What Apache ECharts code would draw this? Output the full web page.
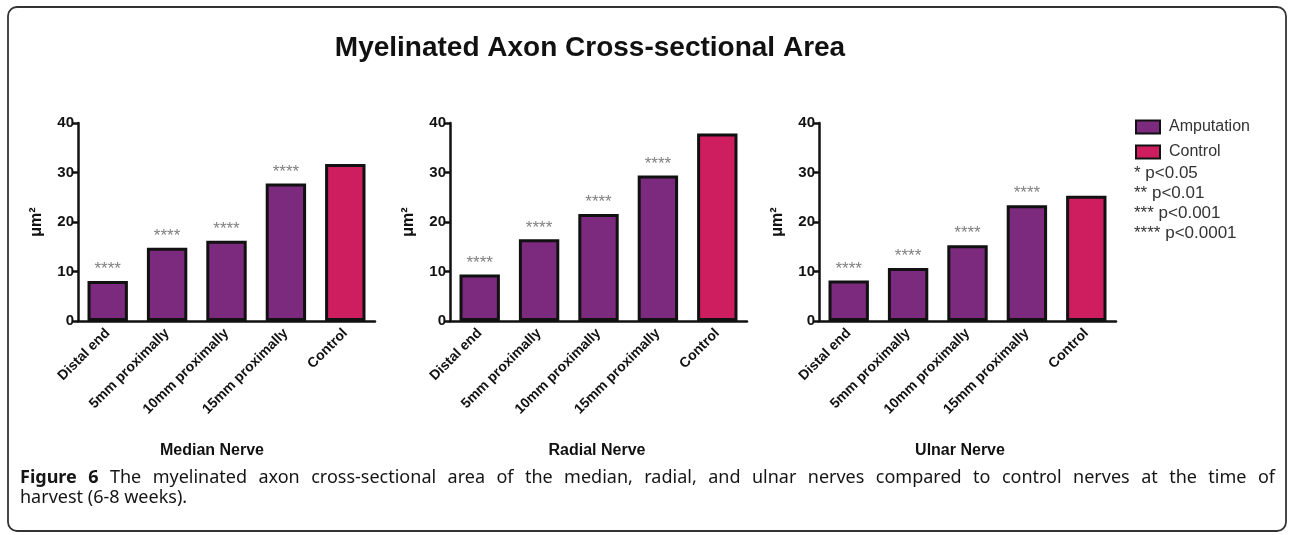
<!DOCTYPE html>
<html>
<head>
<meta charset="utf-8">
<script src="https://cdn.jsdelivr.net/npm/echarts@6/dist/echarts.min.js"></script>
<style>
html,body{margin:0;padding:0;background:#fff;}
#chart{width:1290px;height:535px;}
</style>
</head>
<body>
<div id="chart"></div>
<script>
// ---- data ----
const categories = ['Distal end', '5mm proximally', '10mm proximally', '15mm proximally', 'Control'];
const panelNames = ['Median Nerve', 'Radial Nerve', 'Ulnar Nerve'];
const medianValues = [8.1, 14.8, 16.2, 27.8, 31.7];
const radialValues = [9.4, 16.5, 21.6, 29.4, 37.9];
const ulnarValues = [8.2, 10.7, 15.3, 23.4, 25.3];
const significance = ['****', '****', '****', '****', ''];
const pLegend = ['* p<0.05', '** p<0.01', '*** p<0.001', '**** p<0.0001'];
const yTicks = { min: 0, max: 40, interval: 10 };
const seriesNames = ['Amputation', 'Control'];
const captionLine1 = 'The myelinated axon cross-sectional area of the median, radial, and ulnar nerves compared to control nerves at the time of';
const captionLine2 = 'harvest (6-8 weeks).';
const captionLabel = 'Figure 6';

const PURPLE = '#7c2a7d';
const PINK = '#ce1e60';
const FONT = "Arial, 'Liberation Sans', Helvetica, sans-serif";
const CAP_FONT = "'Noto Sans', 'Open Sans', sans-serif";

const panels = [medianValues, radialValues, ulnarValues];
const grids = [
  { left: 78, top: 123, width: 297, height: 198 },
  { left: 450, top: 123, width: 297, height: 198 },
  { left: 819, top: 123, width: 297, height: 198 }
];

const xAxes = [], yAxes = [], series = [];
panels.forEach((vals, i) => {
  xAxes.push({
    type: 'category', gridIndex: i, data: categories,
    axisLine: { lineStyle: { color: '#111', width: 2.5 } },
    axisTick: { alignWithLabel: true, length: 6, lineStyle: { color: '#111', width: 2.5 } },
    axisLabel: { rotate: 45, interval: 0, color: '#111', fontWeight: 'bold', fontSize: 14, fontFamily: FONT, margin: 10 }
  });
  yAxes.push({
    type: 'value', gridIndex: i, min: yTicks.min, max: yTicks.max, interval: yTicks.interval,
    name: 'μm²', nameLocation: 'middle', nameRotate: 90, nameGap: 33,
    nameTextStyle: { color: '#111', fontWeight: 'bold', fontSize: 16, fontFamily: FONT },
    axisLine: { show: true, lineStyle: { color: '#111', width: 2.5 } },
    axisTick: { show: true, length: 6, lineStyle: { color: '#111', width: 2.5 } },
    axisLabel: { color: '#111', fontWeight: 'bold', fontSize: 15, fontFamily: FONT, margin: 4 },
    splitLine: { show: false }
  });
  const amp = vals.map((v, k) => categories[k] === 'Control' ? '-' : v);
  const ctl = vals.map((v, k) => categories[k] === 'Control' ? v : '-');
  const common = {
    type: 'bar', xAxisIndex: i, yAxisIndex: i, stack: 'p' + i, barWidth: '68%',
    animation: false,
    label: {
      show: true, position: 'top', distance: 3, color: '#808080', fontSize: 17, fontFamily: FONT,
      formatter: p => significance[p.dataIndex]
    }
  };
  series.push(Object.assign({}, common, {
    name: seriesNames[0], data: amp,
    itemStyle: { color: PURPLE, borderColor: '#111', borderWidth: 3 }
  }));
  series.push(Object.assign({}, common, {
    name: seriesNames[1], data: ctl,
    itemStyle: { color: PINK, borderColor: '#111', borderWidth: 3 }
  }));
});

const graphics = [
  { type: 'rect', shape: { x: 8, y: 7, width: 1278, height: 524, r: 9 }, style: { fill: 'none', stroke: '#333', lineWidth: 1.8 }, silent: true },
  { type: 'text', x: 590, y: 48, style: { text: 'Myelinated Axon Cross-sectional Area', fill: '#111', font: 'bold 28px ' + FONT, textAlign: 'center', textVerticalAlign: 'middle' } }
];
const nameX = [212, 597, 960];
panelNames.forEach((n, i) => {
  graphics.push({ type: 'text', x: nameX[i], y: 451, style: { text: n, fill: '#111', font: 'bold 16px ' + FONT, textAlign: 'center', textVerticalAlign: 'middle' } });
});
pLegend.forEach((t, i) => {
  graphics.push({ type: 'text', x: 1134, y: 173 + i * 20, style: { text: t, fill: '#333', font: '17px ' + FONT, textVerticalAlign: 'middle' } });
});

// justified caption (line 1), words placed across the available width
const capSize = 18;
const ctx = document.createElement('canvas').getContext('2d');
function measure(t, bold) { ctx.font = (bold ? 'bold ' : '') + capSize + 'px ' + CAP_FONT; return ctx.measureText(t).width; }
const words = [{ t: captionLabel.split(' ')[0], b: true }, { t: captionLabel.split(' ')[1], b: true }]
  .concat(captionLine1.split(' ').map(w => ({ t: w, b: false })));
const capLeft = 20, capRight = 1275;
const totalW = words.reduce((s, w) => s + measure(w.t, w.b), 0);
const gap = (capRight - capLeft - totalW) / (words.length - 1);
let cx = capLeft;
words.forEach(w => {
  graphics.push({ type: 'text', x: cx, y: 478, style: { text: w.t, fill: '#151515', font: (w.b ? 'bold ' : '') + capSize + 'px ' + CAP_FONT, textVerticalAlign: 'middle' } });
  cx += measure(w.t, w.b) + gap;
});
graphics.push({ type: 'text', x: capLeft, y: 498, style: { text: captionLine2, fill: '#151515', font: capSize + 'px ' + CAP_FONT, textVerticalAlign: 'middle' } });

const chart = echarts.init(document.getElementById('chart'), null, { renderer: 'canvas' });
chart.setOption({
  backgroundColor: '#fff',
  animation: false,
  grid: grids,
  xAxis: xAxes,
  yAxis: yAxes,
  series: series,
  legend: {
    data: seriesNames, orient: 'vertical', left: 1135, top: 119, padding: 0,
    icon: 'rect', itemWidth: 24, itemHeight: 13, itemGap: 9,
    itemStyle: { borderColor: '#111', borderWidth: 2 },
    textStyle: { color: '#333', fontSize: 16, fontFamily: FONT, padding: [0, 0, 0, 4] },
    selectedMode: false
  },
  graphic: graphics
});
</script>
</body>
</html>
